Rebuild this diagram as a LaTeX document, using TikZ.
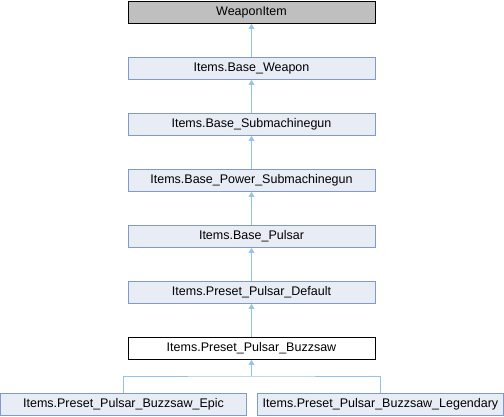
\documentclass[tikz,border=0pt]{standalone}
\usepackage{fontspec}
\setmainfont{Liberation Sans}
\usetikzlibrary{arrows.meta}
\definecolor{boxfill}{RGB}{232,236,245}
\definecolor{boxdraw}{RGB}{128,154,206}
\definecolor{edge}{RGB}{150,196,230}
\definecolor{topfill}{RGB}{191,191,191}
\tikzset{
  cls/.style={draw=boxdraw, fill=boxfill, line width=0.9pt, minimum width=247pt, minimum height=22pt, inner sep=0pt, font=\fontsize{12.5}{14}\selectfont},
  topcls/.style={cls, draw=black, fill=topfill},
  curcls/.style={cls, draw=black, fill=white},
  leafcls/.style={cls, minimum width=246pt},
  inh/.style={draw=edge, line width=0.9pt, -{Triangle[width=6pt,length=5pt]}},
  lnk/.style={draw=edge, line width=0.9pt}
}
\begin{document}
\begin{tikzpicture}[x=1pt,y=-1pt]
\useasboundingbox (0,0) rectangle (504,416);
\node[topcls] (wi) at (251.5,12.5) {WeaponItem};
\node[cls] (bw) at (251.5,68.5) {Items.Base\_Weapon};
\node[cls] (bs) at (251.5,124.5) {Items.Base\_Submachinegun};
\node[cls] (bp) at (251.5,180.5) {Items.Base\_Power\_Submachinegun};
\node[cls] (bpu) at (251.5,236.5) {Items.Base\_Pulsar};
\node[cls] (pd) at (251.5,292.5) {Items.Preset\_Pulsar\_Default};
\node[curcls] (pb) at (251.5,348.5) {Items.Preset\_Pulsar\_Buzzsaw};
\node[leafcls] (ep) at (123.5,404.5) {Items.Preset\_Pulsar\_Buzzsaw\_Epic};
\node[leafcls] (lg) at (380.5,404.5) {Items.Preset\_Pulsar\_Buzzsaw\_Legendary};
\coordinate (br) at (251.5,376);
\draw[inh] (bw) -- (wi);
\draw[inh] (bs) -- (bw);
\draw[inh] (bp) -- (bs);
\draw[inh] (bpu) -- (bp);
\draw[inh] (pd) -- (bpu);
\draw[inh] (pb) -- (pd);
\draw[lnk] (ep.north) |- (br) -| (lg.north);
\draw[inh] (br) -- (pb);
\end{tikzpicture}
\end{document}
